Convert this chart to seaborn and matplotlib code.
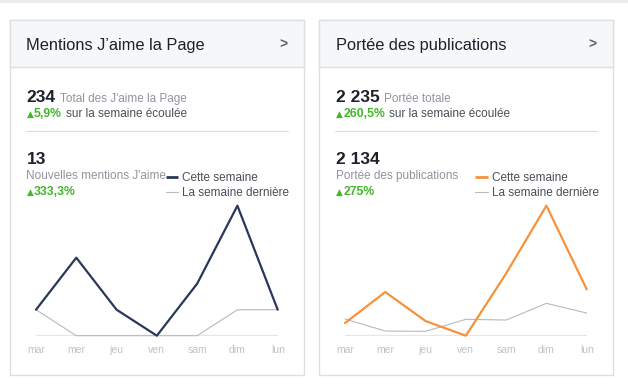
import matplotlib
matplotlib.use("Agg")
import matplotlib.pyplot as plt
from matplotlib.patches import Rectangle
from matplotlib.lines import Line2D
import seaborn as sns
import pandas as pd

# ---------------- data ----------------
jours = ["mar", "mer", "jeu", "ven", "sam", "dim", "lun"]

likes_cette_semaine = [1, 3, 1, 0, 2, 5, 1]
likes_semaine_derniere = [1, 0, 0, 0, 0, 1, 1]

portee_cette_semaine = [87, 301, 101, 0, 429, 896, 320]
portee_semaine_derniere = [115, 32, 30, 113, 108, 223, 156]

legend_labels = ["Cette semaine", "La semaine dernière"]

panel_titles = ["Mentions J\u2019aime la Page", "Portée des publications"]
total_values = ["234", "2 235"]
total_labels = ["Total des J'aime la Page", "Portée totale"]
total_change = ["5,9%", "260,5%"]
change_suffix = "sur la semaine écoulée"
week_values = ["13", "2 134"]
week_labels = ["Nouvelles mentions J'aime", "Portée des publications"]
week_change = ["333,3%", "275%"]

# ---------------- style ----------------
sns.set_theme(style="white")
plt.rcParams["font.family"] = ["Liberation Sans", "DejaVu Sans"]

W, H = 628, 384
fig = plt.figure(figsize=(W / 100, H / 100), dpi=100)
fig.patch.set_facecolor("white")

DARK = "#1d2129"
GRAY_TXT = "#90949c"
MID_TXT = "#4b4f56"
GREEN = "#42b72a"
BORDER = "#dddfe2"
TICK = "#bec2c9"
NAVY = "#29385a"
ORANGE = "#f7923b"
LAST = "#b4b9c3"


def fx(x):
    return x / W


def fy(y):
    return 1 - y / H


renderer = fig.canvas.get_renderer()


def text_px(x, y, s, **kw):
    kw.setdefault("va", "baseline")
    kw.setdefault("ha", "left")
    t = fig.text(fx(x), fy(y), s, **kw)
    return t


def right_px(t):
    bb = t.get_window_extent(renderer=renderer)
    return bb.x1 * W / fig.bbox.width


# top strip
fig.add_artist(Rectangle((0, fy(3)), 1, 3 / H, transform=fig.transFigure,
                         facecolor="#e9ebee", edgecolor="none", zorder=-5))

panels = [
    dict(x0=10, x1=303.5, cur=likes_cette_semaine, last=likes_semaine_derniere,
         color=NAVY, ax_x0=36, ax_x1=277.7, leg_x=165.5),
    dict(x0=319.3, x1=612.7, cur=portee_cette_semaine, last=portee_semaine_derniere,
         color=ORANGE, ax_x0=345, ax_x1=586.7, leg_x=475),
]

for i, p in enumerate(panels):
    x0, x1 = p["x0"], p["x1"]
    y0, y1 = 20, 374.7
    # panel box
    fig.add_artist(Rectangle((fx(x0), fy(y1)), fx(x1 - x0), (y1 - y0) / H,
                             transform=fig.transFigure, facecolor="white",
                             edgecolor=BORDER, lw=1.0, zorder=-5))
    # header
    fig.add_artist(Rectangle((fx(x0), fy(66.7)), fx(x1 - x0), (66.7 - y0) / H,
                             transform=fig.transFigure, facecolor="#f6f7f9",
                             edgecolor=BORDER, lw=1.0, zorder=-4))
    tx = x0 + 16.5
    text_px(tx, 50, panel_titles[i], fontsize=11.8, color=DARK)
    text_px(x1 - 20, 49, ">", fontsize=10, color="#606770", fontweight="bold",
            ha="center")

    # totals
    t = text_px(tx, 101.7, total_values[i], fontsize=12.5, fontweight="bold", color=DARK)
    text_px(right_px(t) + 4, 101.7, total_labels[i], fontsize=8.5, color=GRAY_TXT)

    t = text_px(tx, 116.7, "\u25b2", fontsize=6.5, color=GREEN,
                family=["DejaVu Sans"])
    t = text_px(right_px(t) + 0.5, 116.7, total_change[i], fontsize=8.8,
                color=GREEN, fontweight="bold")
    text_px(right_px(t) + 4, 116.7, change_suffix, fontsize=8.5, color=MID_TXT)

    # separator
    fig.add_artist(Line2D([fx(tx - 1), fx(x1 - 16)], [fy(131), fy(131)],
                          transform=fig.transFigure, color=BORDER, lw=0.9))

    # weekly
    text_px(tx, 164, week_values[i], fontsize=12.5, fontweight="bold", color=DARK)
    text_px(tx, 179.3, week_labels[i], fontsize=8.5, color=GRAY_TXT)
    t = text_px(tx, 195, "\u25b2", fontsize=6.5, color=GREEN, family=["DejaVu Sans"])
    text_px(right_px(t) + 0.5, 195, week_change[i], fontsize=8.8, color=GREEN,
            fontweight="bold")

    # chart
    ax = fig.add_axes([fx(p["ax_x0"]), fy(335.7), fx(p["ax_x1"] - p["ax_x0"]), 130 / H])
    ax.set_zorder(2)
    ax.patch.set_alpha(0)
    df = pd.DataFrame({"jour": jours, "cur": p["cur"], "last": p["last"]})
    df["pos"] = range(len(jours))
    ax.axhline(0, color="#e4e6e9", lw=1.6, zorder=1)
    sns.lineplot(data=df, x="pos", y="last", ax=ax, color=LAST, lw=0.8,
                 sort=False, zorder=2, clip_on=False)
    sns.lineplot(data=df, x="pos", y="cur", ax=ax, color=p["color"], lw=1.6,
                 sort=False, zorder=3, clip_on=False)
    ax.set_xlim(0, len(jours) - 1)
    ax.set_ylim(0, max(p["cur"]))
    ax.set_xticks(df["pos"])
    ax.set_xticklabels(jours)
    ax.set_yticks([])
    ax.set_xlabel("")
    ax.set_ylabel("")
    for s in ax.spines.values():
        s.set_visible(False)
    ax.tick_params(axis="x", length=0, pad=6.5, labelsize=7.5, labelcolor=TICK)

    # legend
    lx = p["leg_x"]
    fig.add_artist(Line2D([fx(lx), fx(lx + 12.5)], [fy(177.5), fy(177.5)],
                          transform=fig.transFigure, color=p["color"], lw=2.0,
                          solid_capstyle="butt", zorder=3))
    fig.add_artist(Line2D([fx(lx), fx(lx + 12.5)], [fy(192.3), fy(192.3)],
                          transform=fig.transFigure, color=LAST, lw=0.8, zorder=3))
    text_px(lx + 16.5, 181.3, legend_labels[0], fontsize=8.5, color=MID_TXT, zorder=3)
    text_px(lx + 16.5, 196.5, legend_labels[1], fontsize=8.5, color=MID_TXT, zorder=3)

fig.savefig("out.png", dpi=100)
